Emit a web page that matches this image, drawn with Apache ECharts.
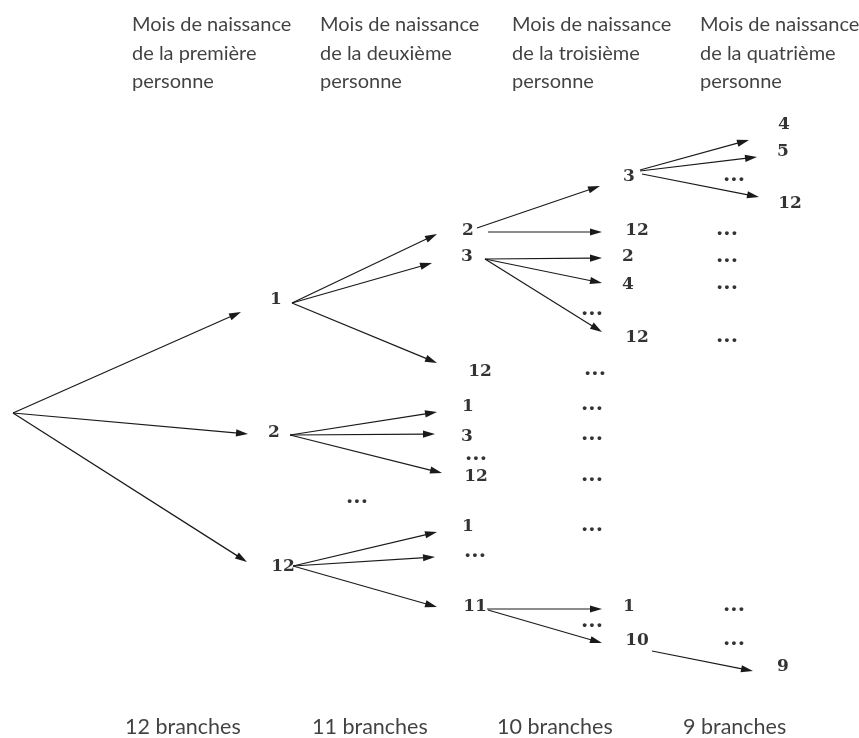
<!DOCTYPE html>
<html><head><meta charset="utf-8">
<script src="https://cdn.jsdelivr.net/npm/echarts@6/dist/echarts.min.js"></script>
<style>html,body{margin:0;padding:0;background:#fff}#c{width:859px;height:738px}</style>
</head><body><div id="c"></div>
<script>
// Column headers (one entry per column, one string per line)
const headerLines = [
  ["Mois de naissance", "de la première", "personne"],
  ["Mois de naissance", "de la deuxième", "personne"],
  ["Mois de naissance", "de la troisième", "personne"],
  ["Mois de naissance", "de la quatrième", "personne"]
];
const footerLabels = ["12 branches", "11 branches", "10 branches", "9 branches"];

// Tree node labels: [text, x, y] in diagram units
const level1Nodes = [["1", 276, 300], ["2", 274, 433], ["12", 283, 567], ["...", 357, 503]];
const level2Nodes = [
  ["2", 468, 231], ["3", 467, 257], ["12", 480, 372],
  ["1", 468, 407], ["3", 467, 437], ["...", 476, 460], ["12", 476, 477],
  ["1", 468, 527], ["...", 475, 557], ["11", 475, 607]
];
const level3Nodes = [
  ["3", 629, 177], ["12", 637, 231], ["2", 628, 257], ["4", 628, 285], ["...", 592, 315], ["12", 637, 338],
  ["...", 595, 375], ["...", 592, 410], ["...", 592, 440], ["...", 592, 481], ["...", 592, 531],
  ["1", 629, 607], ["...", 592, 627], ["10", 637, 641]
];
const level4Nodes = [
  ["4", 784, 125], ["5", 783, 152], ["...", 734, 181], ["12", 790, 204],
  ["...", 727, 235], ["...", 727, 262], ["...", 727, 289], ["...", 727, 342],
  ["...", 734, 611], ["...", 734, 645], ["9", 783, 667]
];

// Branches: [fromX, fromY, toX, toY]
const branches = [
  [13, 413, 241, 312], [13, 413, 248, 434], [13, 413, 247, 562],
  [292, 303, 437, 234], [292, 303, 432, 263], [292, 303, 437, 363],
  [290, 435, 437, 412], [290, 435, 435, 434], [290, 435, 442, 473],
  [293, 566, 437, 532], [293, 566, 435, 557], [293, 566, 437, 607],
  [477, 228, 600, 186], [488, 232, 602, 232],
  [485, 259, 602, 258], [485, 259, 602, 283], [485, 259, 602, 332],
  [487, 609, 602, 609], [488, 610, 602, 643],
  [640, 170, 749, 140], [640, 171, 757, 157], [642, 174, 759, 197],
  [652, 651, 753, 671]
];

// Layout
const W = 859, H = 738;
const headerX = [132, 320, 512, 700];
const headerLineY = [25, 53.5, 82];
const footerX = [125, 312, 497, 683];
const footerY = 727;

const headerData = [];
headerLines.forEach((lines, c) => lines.forEach((t, i) => headerData.push([headerX[c], headerLineY[i], t])));
const footerData = footerLabels.map((t, i) => [footerX[i], footerY, t]);
const nodeData = [].concat(level1Nodes, level2Nodes, level3Nodes, level4Nodes).map(n => ({
  value: [n[1], n[2], n[0]],
  label: n[0] === "..." ? { offset: [0, -5], fontSize: 21 } : {}
}));

const textSeries = (data, lab) => ({
  type: 'scatter', data: data, symbolSize: 1, silent: true,
  itemStyle: { color: 'rgba(0,0,0,0)' },
  label: Object.assign({ show: true, position: 'inside', formatter: p => p.value[2], color: '#000' }, lab)
});

const chart = echarts.init(document.getElementById('c'), null, { renderer: 'canvas' });
chart.setOption({
  animation: false,
  backgroundColor: '#ffffff',
  grid: { left: 0, right: 0, top: 0, bottom: 0 },
  xAxis: { type: 'value', min: 0, max: W, show: false },
  yAxis: { type: 'value', min: 0, max: H, inverse: true, show: false },
  series: [
    {
      type: 'custom', silent: true, data: branches,
      encode: { x: [0, 2], y: [1, 3] },
      renderItem: function (params, api) {
        const p1 = api.coord([api.value(0), api.value(1)]);
        const p2 = api.coord([api.value(2), api.value(3)]);
        const dx = p2[0] - p1[0], dy = p2[1] - p1[1];
        const L = Math.hypot(dx, dy), ux = dx / L, uy = dy / L;
        const hl = 12, hw = 3.6;
        const bx = p2[0] - ux * hl, by = p2[1] - uy * hl;
        return {
          type: 'group', children: [
            { type: 'line', shape: { x1: p1[0], y1: p1[1], x2: bx + ux * 2, y2: by + uy * 2 }, style: { stroke: '#1a1a1a', lineWidth: 1.2 } },
            { type: 'polygon', shape: { points: [[p2[0], p2[1]], [bx - uy * hw, by + ux * hw], [bx + uy * hw, by - ux * hw]] }, style: { fill: '#1a1a1a' } }
          ]
        };
      }
    },
    textSeries(nodeData, { fontFamily: 'DejaVu Serif', fontWeight: 'bold', fontSize: 17, align: 'center', verticalAlign: 'middle' }),
    textSeries(headerData, { fontFamily: 'Lato', fontSize: 20, align: 'left', verticalAlign: 'middle', color: '#111' }),
    textSeries(footerData, { fontFamily: 'Lato', fontSize: 21.5, align: 'left', verticalAlign: 'middle', color: '#111' })
  ]
});
</script>
</body></html>
